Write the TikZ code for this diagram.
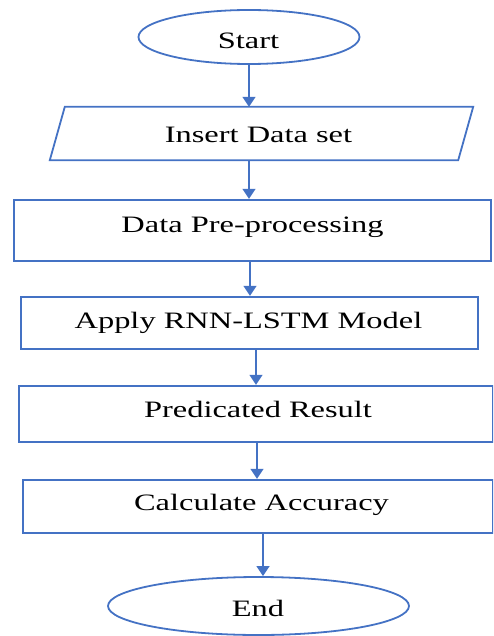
\documentclass[tikz,border=0pt]{standalone}
\usepackage{fontspec}
\setmainfont{Liberation Serif}[FakeStretch=1.38]
\usetikzlibrary{shapes.geometric,arrows.meta}
\definecolor{fblue}{HTML}{4472C4}
\tikzset{
  term/.style={ellipse,draw=fblue,line width=1.8pt,minimum width=#1,inner sep=0pt},
  boxnode/.style={draw=fblue,line width=2.4pt,inner sep=0pt},
  txt/.style={anchor=base,inner sep=0pt,font=\fontsize{23.5pt}{26pt}\selectfont},
  arr/.style={draw=fblue,line width=1.4pt,-{Triangle[width=13pt,length=10pt]}}
}
\begin{document}
\begin{tikzpicture}[x=1pt,y=-1pt]
\useasboundingbox (0,0) rectangle (493,636);
\clip (0,0) rectangle (493,636);
% shapes
\node[term=221pt,minimum height=54pt] (start) at (249,37) {};
\node[inner sep=0pt,minimum width=423pt,minimum height=53pt] (ins) at (261.5,133.5) {};
\draw[fblue,line width=1.8pt,line join=miter]
  ([xshift=15pt]ins.north west) -- (ins.north east) -- ([xshift=-15pt]ins.south east) -- (ins.south west) -- cycle;
\node[boxnode,minimum width=477pt,minimum height=61pt] (dp) at (252.5,230.5) {};
\node[boxnode,minimum width=457pt,minimum height=52pt] (rnn) at (249.5,323) {};
\node[boxnode,minimum width=474pt,minimum height=56pt] (pr) at (256,414) {};
\node[boxnode,minimum width=470pt,minimum height=53pt] (ca) at (258,506.5) {};
\node[term=301pt,minimum height=58pt] (end) at (258.5,606) {};
% texts
\node[txt] (tstart) at (248.5,49) {Start};
\node[txt] (tins) at (258.5,143) {Insert Data set};
\node[txt] (tdp) at (252.5,232) {Data Pre-processing};
\node[txt] (trnn) at (248.5,328) {Apply RNN-LSTM Model};
\node[txt] (tpr) at (258,417) {Predicated Result};
\node[txt] (tca) at (261.5,510.5) {Calculate Accuracy};
\node[txt] (tend) at (258,616.5) {End};
% connectors
\draw[arr] (start.south) -- (start.south |- ins.north);
\draw[arr] (start.south |- ins.south) -- (start.south |- dp.north);
\draw[arr] ([xshift=-2.5pt]dp.south) -- ([xshift=-2.5pt]dp.south |- rnn.north);
\draw[arr] (pr.north |- rnn.south) -- (pr.north);
\draw[arr] ([xshift=1pt]pr.south) -- ([xshift=1pt]pr.south |- ca.north);
\draw[arr] ([xshift=5pt]ca.south) -- ([xshift=5pt]ca.south |- end.north);
\end{tikzpicture}
\end{document}
